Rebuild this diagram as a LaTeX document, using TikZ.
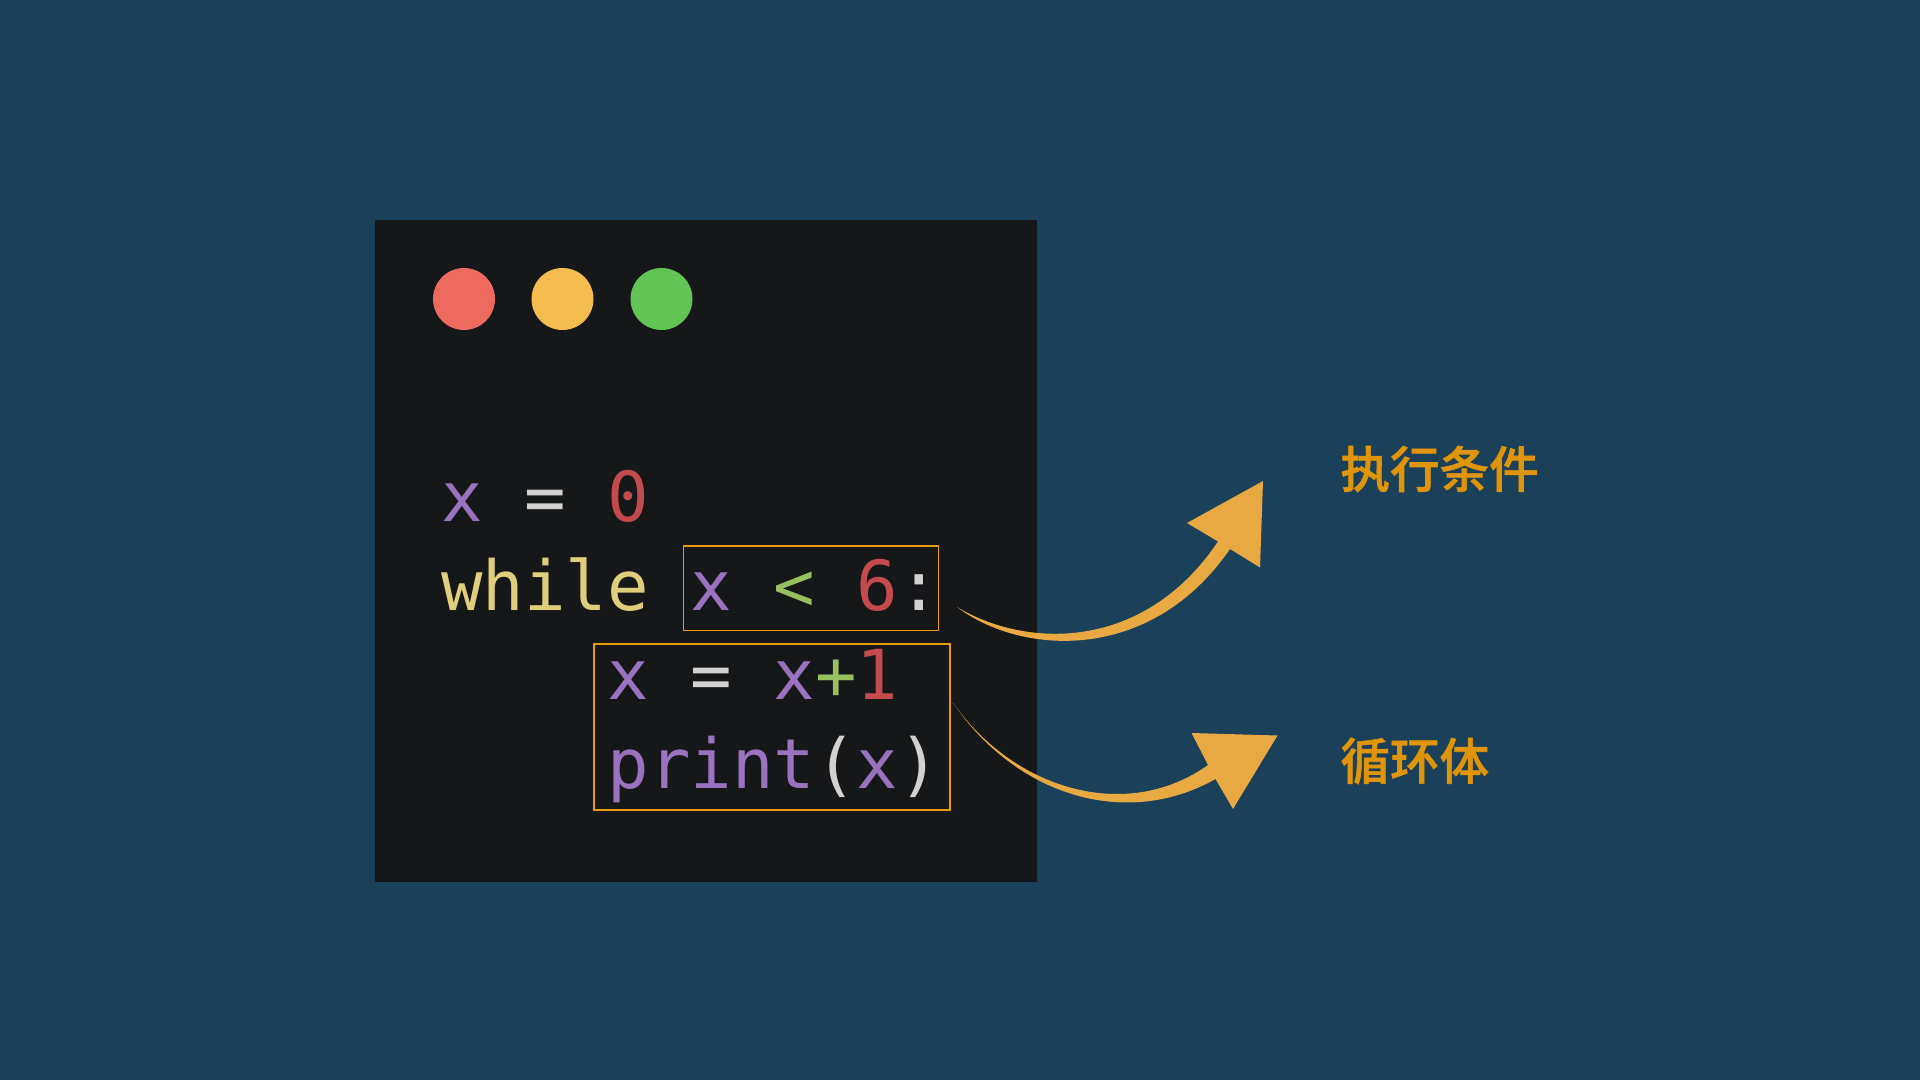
\documentclass[tikz,border=0pt]{standalone}
\usepackage{fontspec}
\setmonofont{DejaVu Sans Mono}
\newfontfamily\cjkfont[FakeBold=1.2]{Noto Sans CJK SC Medium}
\usetikzlibrary{fit}

\definecolor{slatebg}{HTML}{1B415A}
\definecolor{panelbg}{HTML}{161719}
\definecolor{synpurple}{HTML}{9A72BF}
\definecolor{syngrey}{HTML}{D2D2D2}
\definecolor{synred}{HTML}{C34A4D}
\definecolor{synyellow}{HTML}{E0CE7C}
\definecolor{syngreen}{HTML}{98C05F}
\definecolor{markorange}{HTML}{E89B0C}
\definecolor{arroworange}{HTML}{E8A842}
\definecolor{labelorange}{HTML}{E09408}

\tikzset{
    panelbox/.style={fill=panelbg, inner sep=0pt},
    dot/.style={circle, inner sep=0pt, minimum size=31pt},
    codeline/.style={anchor=base west, inner sep=0pt, text=syngrey, font=\ttfamily\fontsize{34.5}{40}\selectfont},
    markbox/.style={draw=markorange, line width=0.75pt, inner sep=0pt},
    curvearrow/.style={fill=arroworange},
    notelabel/.style={anchor=west, inner sep=0pt, text=labelorange, font=\cjkfont\fontsize{24.8}{30}\selectfont}
}

\newcommand{\vn}[1]{\textcolor{synpurple}{#1}}
\newcommand{\nm}[1]{\textcolor{synred}{#1}}
\newcommand{\op}[1]{\textcolor{syngreen}{#1}}

\begin{document}
\begin{tikzpicture}[x=0.5pt,y=-0.5pt]
            \fill[slatebg] (0,0) rectangle (1920,1080);
            \useasboundingbox (0,0) rectangle (1920,1080);

            \node[panelbox, fit={(375,220) (1037,882)}] (panel) {};

            \node[dot, fill={rgb,255:red,238;green,106;blue,95}] (reddot) at (464,299) {};
            \node[dot, fill={rgb,255:red,245;green,189;blue,79}] (yellowdot) at (562.5,299) {};
            \node[dot, fill={rgb,255:red,97;green,196;blue,84}] (greendot) at (661.5,299) {};

            \node[codeline] (initline) at (440.7,521.5) {\vn{x} = \nm{0}};
            \node[codeline] (whileline) at (440.7,610.5) {\textcolor{synyellow}{while} \vn{x} \op{<} \nm{6}:};
            \node[codeline] (incrline) at (607.2,699.5) {\vn{x} = \vn{x}\op{+}\nm{1}};
            \node[codeline] (printline) at (607.2,788) {\vn{print}(\vn{x})};

            \node[markbox, fit={(683.5,546) (938.5,630.5)}] (condbox) {};
            \node[markbox, fit={(594,644) (950,810)}] (bodybox) {};

            \node[notelabel] (condlabel) at (1340,469) {执行条件};
            \node[notelabel] (bodylabel) at (1340,761) {循环体};

            \coordinate (condfrom) at (957,607);
            \coordinate (condstemlow) at (1230,549);
            \coordinate (condstemup) at (1218,541.5);
            \coordinate (condheadb) at (1260,567.5);
            \coordinate (condtip) at (1263,481);
            \coordinate (condheada) at (1187,523);
            \coordinate (bodyfrom) at (952.5,702);
            \coordinate (bodystemlow) at (1215.5,779);
            \coordinate (bodystemup) at (1208,765);
            \coordinate (bodyheadb) at (1233,809);
            \coordinate (bodytip) at (1277.5,735.5);
            \coordinate (bodyheada) at (1191.5,733);

            \fill[curvearrow] (condfrom) .. controls (1020,655) and (1150,665) .. (condstemlow) -- (condheadb) -- (condtip) -- (condheada) -- (condstemup) .. controls (1143,653) and (1025,648) .. (condfrom) -- cycle;
            \fill[curvearrow] (bodyfrom) .. controls (1015,795) and (1125,830) .. (bodystemlow) -- (bodyheadb) -- (bodytip) -- (bodyheada) -- (bodystemup) .. controls (1125,824) and (1012,788) .. (bodyfrom) -- cycle;
\end{tikzpicture}
\end{document}
